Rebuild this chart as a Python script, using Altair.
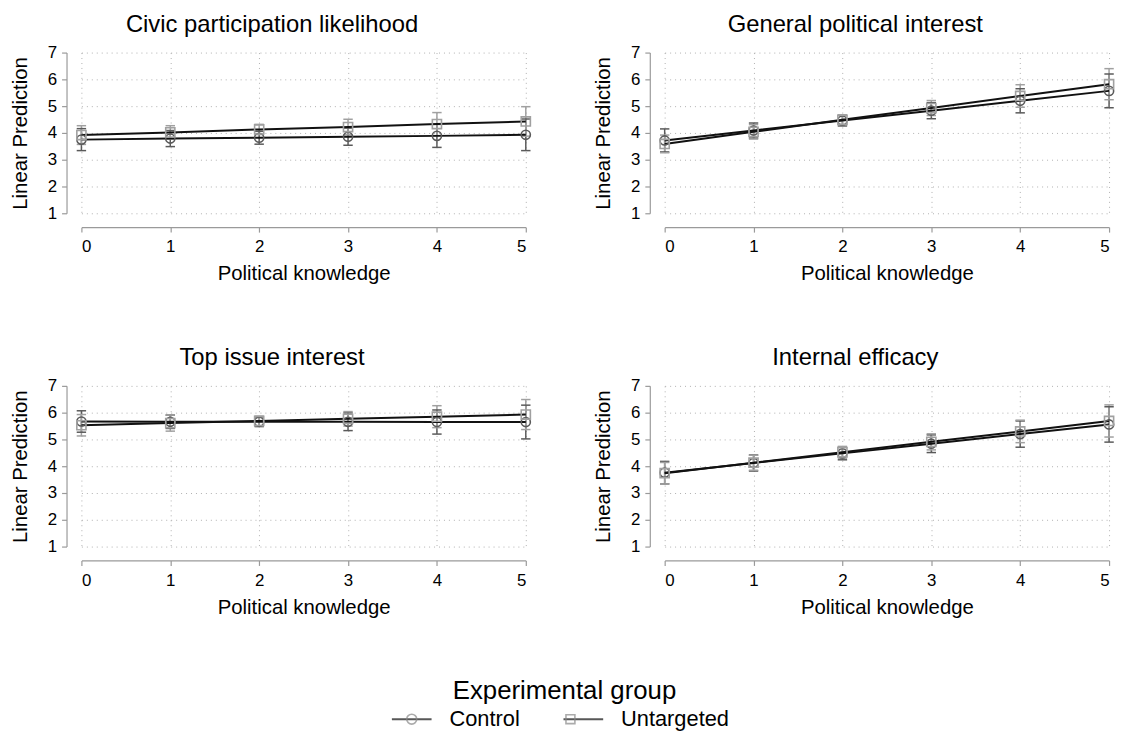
import altair as alt
import pandas as pd

FONT = "Liberation Sans"

knowledge = [0, 1, 2, 3, 4, 5]
groups = ["Control", "Untargeted"]
panel_titles = ["Civic participation likelihood", "General political interest",
                "Top issue interest", "Internal efficacy"]

# Civic participation likelihood
civic_control = [3.75, 3.79, 3.82, 3.86, 3.89, 3.93]
civic_control_hw = [0.41, 0.30, 0.24, 0.32, 0.43, 0.59]
civic_untargeted = [3.92, 4.02, 4.13, 4.22, 4.33, 4.43]
civic_untargeted_hw = [0.35, 0.25, 0.19, 0.29, 0.43, 0.55]

# General political interest
gpi_control = [3.72, 4.09, 4.46, 4.83, 5.20, 5.57]
gpi_control_hw = [0.43, 0.28, 0.20, 0.30, 0.45, 0.63]
gpi_untargeted = [3.59, 4.04, 4.49, 4.93, 5.38, 5.82]
gpi_untargeted_hw = [0.33, 0.27, 0.18, 0.28, 0.42, 0.58]

# Top issue interest
tii_control = [5.67, 5.66, 5.66, 5.66, 5.65, 5.65]
tii_control_hw = [0.40, 0.25, 0.18, 0.33, 0.45, 0.63]
tii_untargeted = [5.53, 5.61, 5.69, 5.77, 5.85, 5.93]
tii_untargeted_hw = [0.40, 0.30, 0.18, 0.27, 0.41, 0.56]

# Internal efficacy
ie_control = [3.76, 4.12, 4.48, 4.84, 5.20, 5.56]
ie_control_hw = [0.42, 0.30, 0.24, 0.33, 0.49, 0.66]
ie_untargeted = [3.74, 4.13, 4.52, 4.91, 5.30, 5.69]
ie_untargeted_hw = [0.40, 0.28, 0.22, 0.30, 0.42, 0.60]

y_ticks = [1, 2, 3, 4, 5, 6, 7]
group_strokes = ["#5a5a5a", "#a0a0a0"]
group_shapes = ["circle", "square"]

panel_series = [
    (civic_control, civic_control_hw, civic_untargeted, civic_untargeted_hw),
    (gpi_control, gpi_control_hw, gpi_untargeted, gpi_untargeted_hw),
    (tii_control, tii_control_hw, tii_untargeted, tii_untargeted_hw),
    (ie_control, ie_control_hw, ie_untargeted, ie_untargeted_hw),
]


def make_df(c, chw, u, uhw):
    rows = []
    for g, m, hw in ((groups[0], c, chw), (groups[1], u, uhw)):
        for x, mv, h in zip(knowledge, m, hw):
            rows.append({"x": x, "group": g, "mean": mv, "lo": mv - h, "hi": mv + h})
    return pd.DataFrame(rows)


x_axis = alt.Axis(values=knowledge, title="Political knowledge", offset=14,
                  grid=True, gridDash=[1, 4], gridColor="#b0b0b0", gridWidth=1,
                  labelPadding=7, titlePadding=9, tickSize=5, format="d")
y_axis = alt.Axis(values=y_ticks, title="Linear Prediction", offset=15,
                  grid=True, gridDash=[1, 4], gridColor="#b0b0b0", gridWidth=1,
                  labelPadding=5, titlePadding=17, tickSize=5, format="d")
x_scale = alt.Scale(domain=[0, 5], nice=False, zero=False)
y_scale = alt.Scale(domain=[1, 7], nice=False, zero=False)
stroke_enc = alt.Stroke("group:N", scale=alt.Scale(domain=groups, range=group_strokes), legend=None)


def X():
    return alt.X("x:Q", scale=x_scale, axis=x_axis)


def Y(field):
    return alt.Y(f"{field}:Q", scale=y_scale, axis=y_axis)


CAP = "M-1,0L1,0"


def panel(title, df):
    base = alt.Chart(df)
    bars = base.mark_rule(strokeWidth=1.5).encode(x=X(), y=Y("lo"), y2="hi:Q", stroke=stroke_enc)
    cap_lo = base.mark_point(shape=CAP, size=90, strokeWidth=1.5, filled=False, opacity=1).encode(
        x=X(), y=Y("lo"), stroke=stroke_enc)
    cap_hi = base.mark_point(shape=CAP, size=90, strokeWidth=1.5, filled=False, opacity=1).encode(
        x=X(), y=Y("hi"), stroke=stroke_enc)
    lines = base.mark_line(color="#111111", strokeWidth=2).encode(x=X(), y=Y("mean"), detail="group:N")
    pts = base.mark_point(size=85, strokeWidth=1.6, filled=False, opacity=1).encode(
        x=X(), y=Y("mean"), stroke=stroke_enc,
        shape=alt.Shape("group:N", scale=alt.Scale(domain=groups, range=group_shapes), legend=None))
    return alt.layer(bars, cap_lo, cap_hi, lines, pts).properties(
        width=448, height=162,
        title=alt.TitleParams(title, fontSize=24, font=FONT, fontWeight="normal",
                              anchor="middle", frame="bounds", offset=7, color="#000"))


panels = [panel(t, make_df(*s)) for t, s in zip(panel_titles, panel_series)]

# legend row (line part and marker part overlaid)
LINE_PATH = "M-2,0L2,0"
CIRCLE_PATH = "M-0.5,0A0.5,0.5,0,1,1,0.5,0A0.5,0.5,0,1,1,-0.5,0Z"
SQUARE_PATH = "M-0.45,-0.45L0.45,-0.45L0.45,0.45L-0.45,0.45Z"

legend_df = pd.DataFrame({"lg": groups, "lg2": groups})
LX, LY = 322, 14
common_leg = dict(orient="none", legendX=LX, legendY=LY, direction="horizontal",
                  titleAnchor="middle", titleFontSize=26, labelFontSize=22,
                  titleFont=FONT, labelFont=FONT, titleFontWeight="normal",
                  titleLimit=500, labelLimit=300,
                  symbolSize=400, labelOffset=27, columnPadding=40, titlePadding=4,
                  title="Experimental group")

leg_lines = alt.Chart(legend_df).transform_filter("false").mark_point(
    filled=False, strokeWidth=2, stroke="#111111").encode(
    shape=alt.Shape("lg:N", scale=alt.Scale(domain=groups, range=[LINE_PATH, LINE_PATH]),
                    legend=alt.Legend(symbolStrokeColor="#111111", symbolStrokeWidth=2,
                                      labelColor="#000000", titleColor="#000000", **common_leg)))
leg_marks = alt.Chart(legend_df).transform_filter("false").mark_point(
    filled=False, strokeWidth=1.6).encode(
    shape=alt.Shape("lg2:N", scale=alt.Scale(domain=groups, range=[CIRCLE_PATH, SQUARE_PATH]),
                    legend=alt.Legend(symbolStrokeWidth=1.6, labelColor="transparent",
                                      titleColor="transparent", **common_leg)),
    stroke=alt.Stroke("lg2:N", scale=alt.Scale(domain=groups, range=group_strokes),
                      legend=alt.Legend(symbolStrokeWidth=1.6, labelColor="transparent",
                                        titleColor="transparent", **common_leg)))
legend_row = alt.layer(leg_lines, leg_marks).resolve_scale(
    shape="independent").resolve_legend(shape="independent").properties(width=10, height=1)

top = alt.hconcat(panels[0], panels[1], spacing=60)
bottom = alt.hconcat(panels[2], panels[3], spacing=60)
grid = alt.vconcat(top, bottom, spacing=62)

chart = alt.vconcat(grid, legend_row, spacing=47).properties(
    padding={"left": 2, "top": 2, "right": 0, "bottom": 0}
).configure_view(stroke=None).configure_axis(
    labelFont=FONT, titleFont=FONT, labelFontSize=17, titleFontSize=20.5,
    titleFontWeight="normal", labelColor="#000", titleColor="#000",
    domainColor="#9a9a9a", tickColor="#9a9a9a", domainWidth=1.2, tickWidth=1.2
).configure_legend(labelFont=FONT, titleFont=FONT)

chart.save("out.html", embed_options={"renderer": "svg", "actions": False})
